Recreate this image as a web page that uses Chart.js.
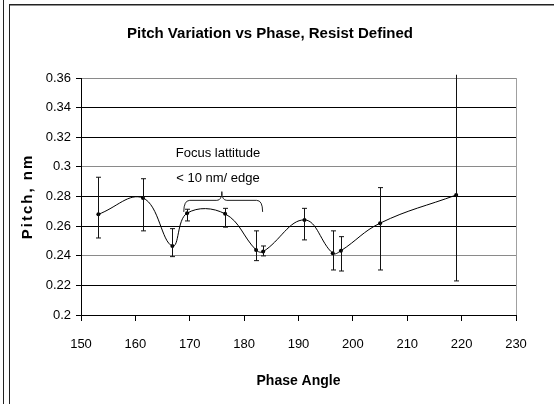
<!DOCTYPE html>
<html>
<head>
<meta charset="utf-8">
<script src="https://cdn.jsdelivr.net/npm/chart.js@4/dist/chart.umd.min.js"></script>
<style>
  html, body { margin: 0; padding: 0; background: #fff; }
  #wrap { position: relative; width: 554px; height: 404px; }
</style>
</head>
<body>
<div id="wrap"><canvas id="c" width="554" height="404"></canvas></div>
<script>
// ---- data ----
const chartTitle = "Pitch Variation vs Phase, Resist Defined";
const xAxisTitle = "Phase Angle";
const yAxisTitle = "Pitch, nm";
const phase   = [153.2, 161.4, 166.8, 169.5, 176.5, 182.2, 183.5, 191.1, 196.3, 197.8, 205.0, 219.0];
const pitch   = [0.268, 0.279, 0.2466, 0.2687, 0.2683, 0.2439, 0.2428, 0.2642, 0.2417, 0.2434, 0.262, 0.281];
const errHigh = [0.293, 0.292, 0.2583, 0.2714, 0.272, 0.2568, 0.2466, 0.272, 0.2568, 0.2529, 0.286, 0.3622];
const errLow  = [0.252, 0.2568, 0.2394, 0.2635, 0.2593, 0.2367, 0.2399, 0.2507, 0.2304, 0.2297, 0.2304, 0.223];
const xTicks = [150, 160, 170, 180, 190, 200, 210, 220, 230];
const yTicks = [0.2, 0.22, 0.24, 0.26, 0.28, 0.3, 0.32, 0.34, 0.36];
const noteLines = ["Focus lattitude", "< 10 nm/ edge"];
const noteAnchor = [175.2, 0.3088, 0.2919];          // x, y of line 1, y of line 2
const braceSpan = [168.9, 175.9, 183.4, 0.2696, 0.2774, 0.2833]; // left, tip, right, end y, body y, tip y

const FONT = "'Liberation Sans', Arial, sans-serif";

const decor = {
  id: 'decor',
  beforeDraw(chart) {
    const ctx = chart.ctx;
    ctx.save();
    ctx.fillStyle = '#fff';
    ctx.fillRect(0, 0, chart.width, chart.height);
    ctx.strokeStyle = '#222';
    ctx.lineWidth = 1;
    ctx.beginPath();
    ctx.moveTo(3.5, 0); ctx.lineTo(3.5, chart.height);
    ctx.moveTo(9.5, 4.5); ctx.lineTo(9.5, chart.height);
    ctx.stroke();
    ctx.lineWidth = 1.5;
    ctx.beginPath();
    ctx.moveTo(9, 4.75); ctx.lineTo(chart.width, 4.75);
    ctx.stroke();
    ctx.restore();
  },
  afterDatasetsDraw(chart) {
    const ctx = chart.ctx;
    const xs = chart.scales.x, ys = chart.scales.y;
    ctx.save();
    // error bars
    ctx.strokeStyle = '#111';
    ctx.lineWidth = 1;
    for (let i = 0; i < phase.length; i++) {
      const px = Math.round(xs.getPixelForValue(phase[i])) + 0.5;
      const top = ys.getPixelForValue(errHigh[i]);
      const bot = ys.getPixelForValue(errLow[i]);
      ctx.beginPath();
      ctx.moveTo(px, top); ctx.lineTo(px, bot);
      if (errHigh[i] <= ys.max) { ctx.moveTo(px - 2.5, top); ctx.lineTo(px + 2.5, top); }
      ctx.moveTo(px - 2.5, bot); ctx.lineTo(px + 2.5, bot);
      ctx.stroke();
    }
    // brace
    const L = xs.getPixelForValue(braceSpan[0]);
    const T = xs.getPixelForValue(braceSpan[1]);
    const R = xs.getPixelForValue(braceSpan[2]);
    const yE = ys.getPixelForValue(braceSpan[3]);
    const yB = ys.getPixelForValue(braceSpan[4]);
    const yT = ys.getPixelForValue(braceSpan[5]);
    ctx.strokeStyle = '#222';
    ctx.beginPath();
    ctx.moveTo(L, yE);
    ctx.quadraticCurveTo(L, yB, L + 6, yB);
    ctx.lineTo(T - 5, yB);
    ctx.quadraticCurveTo(T, yB, T, yT);
    ctx.quadraticCurveTo(T, yB, T + 5, yB);
    ctx.lineTo(R - 6, yB);
    ctx.quadraticCurveTo(R, yB, R, yE);
    ctx.stroke();
    // note text
    ctx.fillStyle = '#000';
    ctx.font = '13px ' + FONT;
    ctx.textAlign = 'center';
    ctx.textBaseline = 'middle';
    const nx = xs.getPixelForValue(noteAnchor[0]);
    ctx.fillText(noteLines[0], nx, ys.getPixelForValue(noteAnchor[1]));
    ctx.fillText(noteLines[1], nx, ys.getPixelForValue(noteAnchor[2]));
    // titles
    const ca = chart.chartArea;
    ctx.font = 'bold 15px ' + FONT;
    ctx.fillText(chartTitle, 270, 34);
    ctx.font = 'bold 14px ' + FONT;
    ctx.fillText(xAxisTitle, (ca.left + ca.right) / 2, 381);
    ctx.save();
    ctx.translate(28, (ca.top + ca.bottom) / 2);
    ctx.rotate(-Math.PI / 2);
    ctx.font = 'bold 15px ' + FONT;
    try { ctx.letterSpacing = '2px'; } catch (e) {}
    ctx.fillText(yAxisTitle, 0, 0);
    ctx.restore();
    ctx.restore();
  }
};

new Chart(document.getElementById('c'), {
  type: 'line',
  data: {
    datasets: [{
      data: phase.map((x, i) => ({ x: x, y: pitch[i] })),
      borderColor: '#000',
      borderWidth: 1,
      backgroundColor: '#000',
      pointRadius: 2,
      pointHoverRadius: 2,
      pointBackgroundColor: '#000',
      pointBorderWidth: 0,
      tension: 0.4,
      fill: false,
      clip: false
    }]
  },
  options: {
    responsive: false,
    animation: false,
    devicePixelRatio: 1,
    layout: { padding: { left: 10, right: 38, top: 78, bottom: 0 } },
    plugins: { legend: { display: false }, title: { display: false }, tooltip: { enabled: false } },
    scales: {
      x: {
        type: 'linear',
        min: 150, max: 230,
        afterFit(s) { s.height = 89; },
        afterBuildTicks(s) { s.ticks = xTicks.map(v => ({ value: v })); },
        ticks: { font: { family: FONT, size: 13 }, color: '#000', padding: 16, maxRotation: 0 },
        grid: {
          color: c => (c.tick && c.tick.value === 230) ? '#a0a0a0' : 'rgba(0,0,0,0)',
          tickColor: '#000',
          tickLength: 6,
          lineWidth: 1
        },
        border: { display: true, color: '#000', width: 1 }
      },
      y: {
        type: 'linear',
        min: 0.2, max: 0.36,
        afterFit(s) { s.width = 71; },
        afterBuildTicks(s) { s.ticks = yTicks.map(v => ({ value: v })); },
        ticks: {
          font: { family: FONT, size: 13 }, color: '#000', padding: 5,
          callback: v => String(+v.toFixed(2))
        },
        grid: {
          color: c => {
            const v = c.tick ? +c.tick.value.toFixed(2) : 0;
            return (v === 0.36 || v === 0.3 || v === 0.24) ? '#8a8a8a' : '#000';
          },
          tickColor: '#000',
          tickLength: 5,
          lineWidth: 1
        },
        border: { display: true, color: '#000', width: 1 }
      }
    }
  },
  plugins: [decor]
});
</script>
</body>
</html>
